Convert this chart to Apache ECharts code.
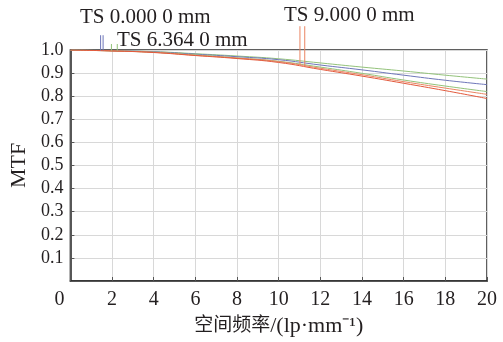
<!DOCTYPE html>
<html><head><meta charset="utf-8">
<script src="https://cdn.jsdelivr.net/npm/echarts@6/dist/echarts.min.js"></script>
<style>html,body{margin:0;padding:0;background:#fff}#c{width:503px;height:342px}</style>
</head><body><div id="c"></div>
<script>
// spatial frequency (lp/mm)
const freq = [0, 2, 4, 6, 8, 10, 12, 14, 16, 18, 20];
// TS 0.000 0 mm (T and S coincide)
const mtfField0 = [1.0, 0.997, 0.992, 0.982, 0.971, 0.958, 0.935, 0.914, 0.891, 0.869, 0.850];
// TS 6.364 0 mm
const mtfField6T = [1.0, 0.997, 0.993, 0.984, 0.974, 0.962, 0.944, 0.926, 0.909, 0.891, 0.874];
const mtfField6S = [1.0, 0.996, 0.990, 0.979, 0.966, 0.951, 0.926, 0.899, 0.870, 0.844, 0.820];
// TS 9.000 0 mm
const mtfField9T = [1.0, 0.996, 0.990, 0.977, 0.965, 0.950, 0.921, 0.893, 0.863, 0.835, 0.808];
const mtfField9S = [1.0, 0.996, 0.989, 0.976, 0.963, 0.946, 0.916, 0.887, 0.856, 0.824, 0.790];
const xTicks = [0, 2, 4, 6, 8, 10, 12, 14, 16, 18, 20];
const yTicks = [0.1, 0.2, 0.3, 0.4, 0.5, 0.6, 0.7, 0.8, 0.9, 1.0];
// leader lines for labels: [x, yFrom, yTo]
const leaders0 = [[1.45, 0.998, 1.064], [1.57, 0.998, 1.064]];
const leaders6 = [[1.97, 0.997, 1.026], [2.25, 0.997, 1.026]];
const leaders9 = [[11.02, 0.933, 1.103], [11.25, 0.929, 1.103]];
const labelNames = ['TS 0.000 0 mm', 'TS 6.364 0 mm', 'TS 9.000 0 mm'];

const FONT = 'Liberation Serif, Times New Roman, Noto Sans CJK SC, serif';
const TXT = '#231f20';
const BLUE = '#6e76b9', GREEN = '#93c27a', ORANGE = '#ea8462', RED = '#e2593c';

const pairs = (ys) => freq.map((x, i) => [x, ys[i]]);
const lineSeries = (name, ys, color) => ({
  name, type: 'line', data: pairs(ys), smooth: true, symbol: 'none',
  lineStyle: { color, width: 1 }, z: 3
});
const leaderSeries = (data, color) => ({
  type: 'custom', data, clip: false, silent: true, z: 4,
  renderItem: (params, api) => {
    const p1 = api.coord([api.value(0), api.value(1)]);
    const p2 = api.coord([api.value(0), api.value(2)]);
    return { type: 'line', shape: { x1: p1[0], y1: p1[1], x2: p2[0], y2: p2[1] },
      style: { stroke: color, lineWidth: 1 } };
  }
});

const chart = echarts.init(document.getElementById('c'), null, { renderer: 'canvas' });
chart.setOption({
  animation: false,
  backgroundColor: '#fff',
  textStyle: { fontFamily: FONT },
  grid: { left: 70, right: 16, top: 50, bottom: 59, show: true, borderColor: '#2b2b2b', borderWidth: 1.5, backgroundColor: 'transparent' },
  xAxis: {
    type: 'value', min: 0, max: 20, interval: 2,
    name: '{c|空间频率}{l|/(lp·mm⁻¹)}', nameLocation: 'middle', nameGap: 34,
    nameTextStyle: { fontFamily: FONT, fontSize: 20, color: TXT,
      rich: { c: { fontFamily: FONT, fontSize: 19, color: TXT }, l: { fontFamily: FONT, fontSize: 22, color: TXT } } },
    axisLine: { show: true, lineStyle: { color: '#2b2b2b', width: 1.5 } },
    axisTick: { show: true, inside: true, length: 4, lineStyle: { color: '#555' } },
    splitLine: { show: true, lineStyle: { color: '#d8d8d8', width: 1 } },
    axisLabel: {
      margin: 9, fontFamily: FONT, fontSize: 20, color: TXT,
      formatter: v => v === 0 ? '{z|0}' : String(v),
      rich: { z: { padding: [0, 22, 0, 0], fontFamily: FONT, fontSize: 20, color: TXT } }
    }
  },
  yAxis: {
    type: 'value', min: 0, max: 1, interval: 0.1,
    name: 'MTF', nameLocation: 'middle', nameGap: 37, nameRotate: 90,
    nameTextStyle: { fontFamily: FONT, fontSize: 22, color: TXT },
    axisLine: { show: true, lineStyle: { color: '#2b2b2b', width: 1.5 } },
    axisTick: { show: true, inside: true, length: 4, lineStyle: { color: '#555' } },
    splitLine: { show: true, lineStyle: { color: '#d8d8d8', width: 1 } },
    axisLabel: {
      margin: 7, fontFamily: FONT, fontSize: 18, color: TXT,
      formatter: v => v === 0 ? '' : v.toFixed(1)
    }
  },
  graphic: [
    { type: 'text', left: 80, top: 7, style: { text: labelNames[0], fontFamily: FONT, fontSize: 21, fill: TXT } },
    { type: 'text', left: 117, top: 30, style: { text: labelNames[1], fontFamily: FONT, fontSize: 21, fill: TXT } },
    { type: 'text', left: 284, top: 5, style: { text: labelNames[2], fontFamily: FONT, fontSize: 21, fill: TXT } }
  ],
  series: [
    lineSeries('TS 6.364 T', mtfField6T, GREEN),
    lineSeries('TS 0.000', mtfField0, BLUE),
    lineSeries('TS 6.364 S', mtfField6S, GREEN),
    lineSeries('TS 9.000 T', mtfField9T, ORANGE),
    lineSeries('TS 9.000 S', mtfField9S, RED),
    leaderSeries(leaders0, BLUE),
    leaderSeries(leaders6, GREEN),
    leaderSeries(leaders9, ORANGE)
  ]
});
</script></body></html>
